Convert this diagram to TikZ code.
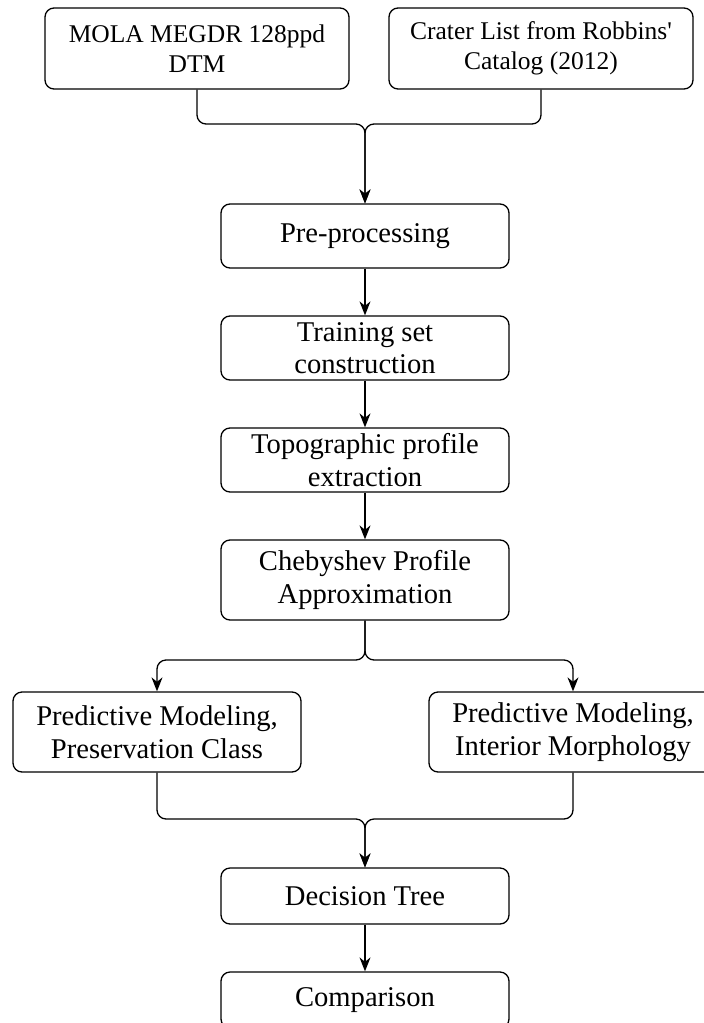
\documentclass[tikz,border=0pt]{standalone}
\usepackage{fontspec}
\setmainfont{Liberation Serif}[Ligatures=TeXOff]
\usetikzlibrary{arrows.meta}
\begin{document}
\begin{tikzpicture}[x=1pt,y=-1pt,
  box/.style={draw,line width=1.3pt,rounded corners=9pt,inner sep=0pt,align=center,
    font=\fontsize{28.6}{32.5}\selectfont,minimum width=288pt},
  topbox/.style={box,minimum width=304pt,minimum height=81pt,font=\fontsize{25.5}{30.5}\selectfont},
  conn/.style={line width=1.3pt,rounded corners=9pt},
  arr/.style={conn,-{Stealth[length=14pt,width=11pt,inset=4.5pt]}}
]
\useasboundingbox (0,0) rectangle (704,1023);
\clip (0,0) rectangle (704,1023);
\node[topbox] (mola) at (197,48.5) {MOLA MEGDR 128ppd\\DTM};
\node[topbox] (crater) at (541,48.5) {Crater List from Robbins'\\Catalog (2012)};
\node[box,minimum height=64pt] (pre) at (365,236) {Pre-processing};
\node[box,minimum height=64pt] (train) at (365,348) {Training set\\construction};
\node[box,minimum height=64pt] (topo) at (365,460) {Topographic profile\\extraction};
\node[box,minimum height=80pt] (cheb) at (365,580) {Chebyshev Profile\\Approximation};
\node[box,minimum height=80pt] (predL) at (157,732) {Predictive Modeling,\\Preservation Class};
\node[box,minimum height=80pt] (predR) at (573,732) {Predictive Modeling,\\Interior Morphology};
\node[box,minimum height=56pt] (dec) at (365,896) {Decision Tree};
\node[box,minimum height=56pt] (comp) at (365,1000) {Comparison};
\coordinate (m1) at (365,124);
\coordinate (s1) at (365,660);
\coordinate (m2) at (365,819);
\draw[arr] (mola.south) |- (m1) -- (pre.north);
\draw[arr] (crater.south) |- (m1) -- (pre.north);
\draw[arr] (pre) -- (train);
\draw[arr] (train) -- (topo);
\draw[arr] (topo) -- (cheb);
\draw[arr] (cheb.south) -- (s1) -| (predL.north);
\draw[arr] (cheb.south) -- (s1) -| (predR.north);
\draw[arr] (predL.south) |- (m2) -- (dec.north);
\draw[arr] (predR.south) |- (m2) -- (dec.north);
\draw[arr] (dec) -- (comp);
\end{tikzpicture}
\end{document}
